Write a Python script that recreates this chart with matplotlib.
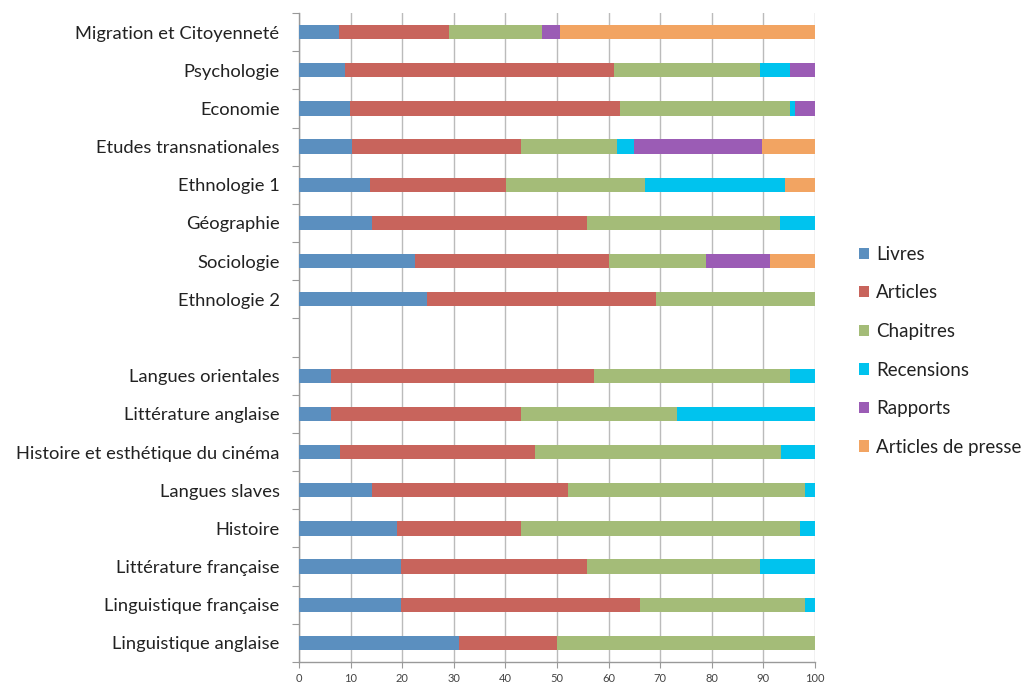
import matplotlib
matplotlib.use("Agg")
import matplotlib.pyplot as plt
import numpy as np

categories = ["Migration et Citoyenneté", "Psychologie", "Economie", "Etudes transnationales",
              "Ethnologie 1", "Géographie", "Sociologie", "Ethnologie 2",
              "Langues orientales", "Littérature anglaise", "Histoire et esthétique du cinéma",
              "Langues slaves", "Histoire", "Littérature française", "Linguistique française",
              "Linguistique anglaise"]

livres     = [7.8, 9.0, 9.8, 10.3, 13.7, 14.1, 22.4, 24.9, 6.2, 6.2, 8.0, 14.1, 19.0, 19.8, 19.8, 31.0]
articles   = [21.2, 52.0, 52.4, 32.8, 26.5, 41.8, 37.6, 44.2, 51.0, 36.9, 37.8, 38.0, 24.1, 36.1, 46.2, 19.0]
chapitres  = [18.0, 28.3, 32.9, 18.5, 26.8, 37.3, 18.8, 30.9, 38.0, 30.1, 47.6, 45.9, 53.9, 33.4, 32.0, 50.0]
recensions = [0.0, 5.9, 1.1, 3.3, 27.1, 6.8, 0.0, 0.0, 4.8, 26.8, 6.6, 2.0, 3.0, 10.7, 2.0, 0.0]
rapports   = [3.6, 4.8, 3.8, 24.9, 0.0, 0.0, 12.5, 0.0, 0.0, 0.0, 0.0, 0.0, 0.0, 0.0, 0.0, 0.0]
presse     = [49.4, 0.0, 0.0, 10.2, 5.9, 0.0, 8.7, 0.0, 0.0, 0.0, 0.0, 0.0, 0.0, 0.0, 0.0, 0.0]

series_names = ["Livres", "Articles", "Chapitres", "Recensions", "Rapports", "Articles de presse"]
series = [livres, articles, chapitres, recensions, rapports, presse]
colors = ["#5B8FBF", "#C8645C", "#A4BC78", "#00C3EE", "#9B5CB5", "#F2A462"]

plt.rcParams['font.family'] = ['Lato', 'DejaVu Sans']

fig = plt.figure(figsize=(10.32, 6.88), dpi=100)
ax = fig.add_axes([299/1032, 1 - 662/688, (815-299)/1032, (662-13)/688])

# positions: gap after the 8th category
n_top = 8
pos = [i if i < n_top else i + 1 for i in range(len(categories))]

left = np.zeros(len(categories))
handles = []
for name, vals, c in zip(series_names, series, colors):
    v = np.array(vals)
    b = ax.barh(pos, v, left=left, height=0.375, color=c, label=name, zorder=3)
    handles.append(b)
    left += v

ax.set_xlim(0, 100)
ax.set_ylim(len(categories) + 0.5, -0.5)
ax.set_xticks(np.arange(0, 101, 10))
ax.tick_params(axis='x', labelsize=8, colors='#444444', length=4, width=0.8, pad=4)
ax.tick_params(axis='x', color='#999999')
ax.set_yticks(pos)
ax.set_yticklabels(categories, fontsize=13.2, color='#222222')
ax.tick_params(axis='y', length=0, pad=14)
ax.set_yticks(np.arange(-0.5, len(categories) + 1), minor=True)
ax.tick_params(axis='y', which='minor', length=5, color='#999999', width=0.8)
ax.grid(axis='x', color='#BBBBBB', linewidth=1.0, zorder=0)
for s in ['top', 'right']:
    ax.spines[s].set_visible(False)
for s in ['left', 'bottom']:
    ax.spines[s].set_color('#999999')
    ax.spines[s].set_linewidth(1.0)

fig.legend(handles=handles, labels=series_names, loc='upper left',
           bbox_to_anchor=(842/1032, 1 - 229/688), frameon=False, fontsize=13.5,
           handlelength=0.55, handleheight=0.55, handletextpad=0.35, labelspacing=1.15,
           labelcolor='#222222')

fig.savefig("out.png", dpi=100)
